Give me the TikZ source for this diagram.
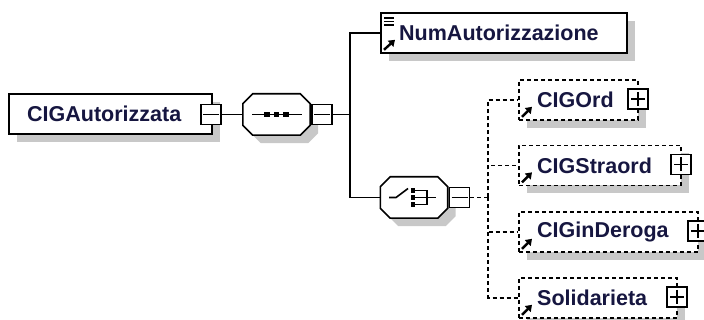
\documentclass[tikz,border=0pt]{standalone}
\usepackage{fontspec}
\setmainfont{Liberation Sans}
\usetikzlibrary{arrows.meta,calc,positioning,shadows}
\definecolor{elemink}{RGB}{22,22,64}
\definecolor{shadowgray}{RGB}{200,200,200}
\tikzset{
    xsd diagram/.style = {x=1pt, y=-1pt},
    conn/.style        = {line width=1.6pt},
    optconn/.style     = {conn, dash pattern=on 4pt off 3pt},
    boxshadow/.style   = {drop shadow={shadow xshift=8pt, shadow yshift=-8pt,
                          opacity=1, fill=shadowgray}},
    elem/.style        = {draw, line width=1.6pt, fill=white, boxshadow,
                          minimum height=40pt, inner sep=0pt, anchor=west},
    optelem/.style     = {elem, dash pattern=on 4pt off 3pt},
    elemname/.style    = {font=\bfseries\fontsize{21.5}{24}\selectfont,
                          text=elemink, inner sep=0pt},
    toggle/.style      = {draw, line width=1.6pt, fill=white,
                          minimum size=20pt, inner sep=0pt},
    collapse/.style    = {toggle, path picture={
                          \draw[conn] ([xshift=2pt]path picture bounding box.west)
                              -- ([xshift=-2pt]path picture bounding box.east);}},
    expand/.style      = {toggle, path picture={
                          \draw[conn] ([xshift=3pt]path picture bounding box.west)
                              -- ([xshift=-3pt]path picture bounding box.east);
                          \draw[conn] ([yshift=-3pt]path picture bounding box.north)
                              -- ([yshift=3pt]path picture bounding box.south);}},
    compositor/.style  = {minimum width=67pt, minimum height=41pt, inner sep=0pt},
    octagon/.style     = {conn, fill=white, boxshadow},
    refarrow/.style    = {line width=2.4pt, -{Triangle[length=6pt,width=8pt]}},
    dot/.style         = {fill, inner sep=0pt, minimum size=#1}
}

\begin{document}
\begin{tikzpicture}[xsd diagram]
\useasboundingbox (0,0) rectangle (704,320);

% root element
\node[elem, minimum width=203pt] (root) at (8,114) {};
\node[elemname, right=19pt of root.west] (rootname) {CIGAutorizzata};
\node[collapse] (rootTog) at ($(root.east)+(-1.5,0.5)$) {};

% compositors (sequence and choice)
\node[compositor] (seq) at (276.5,114.5) {};
\node[compositor] (choice) at (414,197.5) {};
\foreach \c in {seq,choice}
    \draw[octagon] ($(\c.north west)+(10,0)$) -- ($(\c.north east)+(-10,0)$)
        -- ($(\c.north east)+(0,10)$) -- ($(\c.south east)+(0,-10)$)
        -- ($(\c.south east)+(-10,0)$) -- ($(\c.south west)+(10,0)$)
        -- ($(\c.south west)+(0,-10)$) -- ($(\c.north west)+(0,10)$) -- cycle;

% sequence
\node[collapse, right=1pt of seq] (seqTog) {};
\draw[conn] ($(seq.center)+(-24.5,0)$) -- ($(seq.center)+(25.5,0)$);
\foreach \dx in {-9.5,0,9.5}
    \node[dot=5.5pt] at ($(seq.center)+(\dx,0)$) {};
\coordinate (seqfork) at (350,114.5);

\draw[conn] (rootTog.east) -- (seq.west);
\draw[conn] (seqTog.east) -- (seqfork);

% NumAutorizzazione
\node[elem, minimum width=246pt] (num) at (380,33) {};
\node[elemname, right=19pt of num.west] (numname) {NumAutorizzazione};
\foreach \dy in {6,9.5,13}
    \draw[line width=1.5pt] ($(num.north west)+(4,\dy)$) -- ++(10,0);
\draw[refarrow] ($(num.south west)+(4,-4)$) -- ++(11,-10);

% choice
\node[collapse, right=1pt of choice] (choiceTog) {};
\draw[conn] ($(choice.center)+(-25,0)$) -- ++(7,0) -- ++(12,-9);
\foreach \dy in {-7,0,7}
    \node[dot=4.5pt] at ($(choice.center)+(-1,\dy)$) {};
\draw[conn] ($(choice.center)+(1,-7)$) -- ++(12,0) -- ++(0,14) -- ++(-12,0);
\draw[conn] ($(choice.center)+(1,0)$) -- ++(21,0);
\coordinate (choicefork) at (488,197.5);

\draw[conn] (seqfork) |- (num.west);
\draw[conn] (seqfork) |- (choice.west);
\draw[optconn] (choiceTog.east) -- (choicefork);

% optional elements of the choice
\foreach \name/\txt/\y/\w in {ord/CIGOrd/100/119, straord/CIGStraord/165.5/162,
                              deroga/CIGinDeroga/232/179, solid/Solidarieta/298/158} {
    \node[optelem, minimum width=\w pt] (\name) at (518,\y) {};
    \node[elemname, right=19pt of \name.west] (\name name) {\txt};
    \node[expand] (\name Tog) at ($(\name.east)+(-0.5,-1)$) {};
    \draw[refarrow] ($(\name.south west)+(4,-4)$) -- ++(10,-10);
    \draw[optconn] (choicefork) |- (\name.west);
}

\end{tikzpicture}
\end{document}
